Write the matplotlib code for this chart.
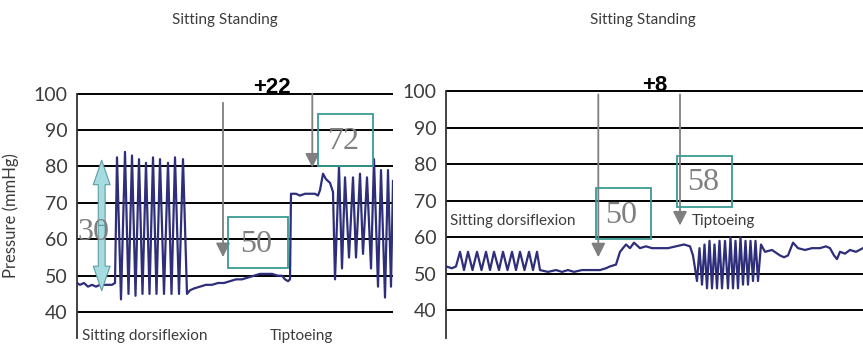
import matplotlib
matplotlib.use("Agg")
import matplotlib.pyplot as plt
from matplotlib.patches import Rectangle

plt.rcParams['font.family'] = ['Lato', 'DejaVu Sans']

# left trace (x = time in arbitrary units, y = pressure mmHg)
left_t = [0, 3, 7, 11, 15, 19, 23, 27, 31, 35, 38,
          40, 44, 48, 51.5, 55, 58.5, 62, 65.5, 69, 72.5, 76, 79.5, 83, 87, 91, 94.5, 98, 102, 106, 110,
          113, 117, 123, 129, 135, 141, 147, 153, 159, 165, 171, 177, 183, 189, 195, 201, 205, 208, 211, 213,
          214, 219, 223, 228, 233, 238, 241, 243, 246, 249, 253, 256, 258,
          262, 265, 268, 272, 276, 279, 283, 286, 290, 294, 297, 301, 304, 308, 311, 314, 316]
left_p = [48, 47.5, 48, 47, 47.5, 47, 47.5, 47.5, 47.5, 47.5, 48,
          82.5, 43.5, 84, 45, 83, 44.5, 82, 45, 81, 45, 82.5, 45, 82, 45, 81, 45, 82.5, 45, 82, 45,
          46, 46.5, 47, 47.5, 47.5, 48, 48, 48.5, 49, 49, 49.5, 50, 50.5, 50.5, 50.5, 50, 50, 49, 48.5, 49,
          72.5, 72.5, 72, 72.5, 72.5, 72.5, 72, 73.5, 78, 76.5, 75.5, 73, 49,
          80, 52, 77, 55, 77, 55, 78, 56, 77, 52, 82, 47, 79, 44, 79, 47, 76]

# right trace
right_t = [0, 6, 10, 14, 18, 22, 26.5, 31, 35.5, 40, 44, 48, 53, 57, 61.5, 66, 70, 74, 78.5, 83, 87, 91,
           94, 102, 110, 116, 122, 128, 136, 144, 154, 160, 164, 170, 174, 180, 184, 188, 194, 200, 206,
           214, 222, 230, 238, 244, 247,
           251, 253.5, 256, 258.5, 261, 263.5, 266, 268.5, 271, 273.5, 276, 279, 282, 284.5, 287, 289.5,
           292, 294.5, 297, 299.5, 302, 304.5, 307, 309.5, 312, 315,
           319, 326, 334, 338, 342, 347, 352, 359, 366, 374, 380, 384, 388, 391, 394, 399, 404, 410, 417]
right_p = [52, 51.5, 52, 56, 51, 56, 51, 56, 51, 56, 51, 56, 51, 56, 51, 56, 51, 56, 51, 56, 51, 56,
           51, 50.5, 51, 50.5, 51, 50.5, 51, 51, 51, 51.5, 52, 52.5, 56, 58, 57, 58.5, 57, 57.5, 57,
           57, 57, 57.5, 58, 57.5, 55,
           48, 57, 47, 58, 46, 59, 46, 58, 46, 59, 46, 59, 46, 60, 46, 59,
           46, 60, 47, 59, 47, 59, 48, 59, 48, 58,
           56, 56.5, 55, 54.5, 55, 58.5, 57, 56.5, 57, 57, 57.5, 57, 55, 54, 56, 55.5, 56.5, 56, 57]

yticks = [40, 50, 60, 70, 80, 90, 100]

trace_color = '#2e2e7a'
grey = '#7f7f7f'
teal = '#3a9b95'
txt = '#3c3c3c'

fig = plt.figure(figsize=(8.63, 3.48), dpi=100)
ax1 = fig.add_axes([77 / 863, 10 / 348, 316 / 863, 245.5 / 348])
ax2 = fig.add_axes([446 / 863, 10 / 348, 417 / 863, 248 / 348])

for ax, xmax, ybot in [(ax1, 316, 32.9), (ax2, 417, 32.4)]:
    ax.set_xlim(0, xmax)
    ax.set_ylim(ybot, 100.3)
    for s in ['top', 'right', 'bottom']:
        ax.spines[s].set_visible(False)
    ax.spines['left'].set_color('#333333')
    ax.spines['left'].set_linewidth(1.3)
    ax.spines['left'].set_bounds(ybot, 100)
    ax.set_xticks([])
    ax.set_yticks(yticks)
    ax.tick_params(axis='y', length=0, pad=7, labelsize=14, labelcolor=txt)
    for v in yticks:
        ax.axhline(v, color='black', lw=1.4, zorder=1)

ax1.plot(left_t, left_p, color=trace_color, lw=1.6, zorder=3)
ax2.plot(right_t, right_p, color=trace_color, lw=1.6, zorder=3)

ax1.set_ylabel('Pressure (mmHg)', fontsize=12, color=txt, labelpad=10)

fig.text(225 / 863, 1 - 20 / 348, 'Sitting Standing', ha='center', va='center', fontsize=11, color=txt)
fig.text(643 / 863, 1 - 20 / 348, 'Sitting Standing', ha='center', va='center', fontsize=11, color=txt)

ax1.text(195, 101.6, '+22', ha='center', va='center', fontsize=16, fontweight='bold',
         family=['Liberation Sans'], color='black', clip_on=False)
ax2.text(209, 101.6, '+8', ha='center', va='center', fontsize=16, fontweight='bold',
         family=['Liberation Sans'], color='black', clip_on=False)

# arrows
for ax, x, top, tip in [(ax1, 146, 97.5, 55.1), (ax1, 235.3, 100, 79.7),
                        (ax2, 152.3, 99.1, 54.5), (ax2, 234, 99.1, 63.2)]:
    ax.annotate('', xy=(x, tip), xytext=(x, top),
                arrowprops=dict(arrowstyle='-|>,head_length=0.6,head_width=0.3', color=grey, lw=1.3,
                                mutation_scale=14, shrinkA=0, shrinkB=0), zorder=4)

# double arrow
mid = (81.7 + 45.9) / 2
for end in [81.7, 45.9]:
    ax1.annotate('', xy=(24.7, end), xytext=(24.7, mid),
                 arrowprops=dict(arrowstyle='simple,head_length=1.6,head_width=1.1,tail_width=0.45',
                                 fc='#a6dbe0', ec='#5c9ea6', lw=0.8, mutation_scale=11,
                                 shrinkA=0, shrinkB=0), zorder=4)
ax1.text(16, 61.9, '30', ha='center', va='center', fontsize=23, color=grey,
         family=['Liberation Serif'], zorder=5)

# boxes with values
for ax, x0, x1, y0, y1, label in [(ax1, 151, 211, 52.1, 66.0, '50'),
                                  (ax1, 241.3, 295.7, 80.2, 94.3, '72'),
                                  (ax2, 149.7, 204.7, 59.5, 73.4, '50'),
                                  (ax2, 231.3, 286.3, 68.4, 82.3, '58')]:
    ax.add_patch(Rectangle((x0, y0), x1 - x0, y1 - y0, fill=False, ec=teal, lw=1.3, zorder=4))
    ax.text((x0 + x1) / 2 - 2, (y0 + y1) / 2 - 0.5, label, ha='center', va='center', fontsize=23,
            color=grey, family=['Liberation Serif'], zorder=5)

# labels
ax1.text(5, 33.5, 'Sitting dorsiflexion', ha='left', va='center', fontsize=11, color=txt, clip_on=False)
ax1.text(193, 33.5, 'Tiptoeing', ha='left', va='center', fontsize=11, color=txt, clip_on=False)
ax2.text(4, 64.5, 'Sitting dorsiflexion', ha='left', va='center', fontsize=11, color=txt)
ax2.text(246, 64.5, 'Tiptoeing', ha='left', va='center', fontsize=11, color=txt)

fig.savefig('out.png', dpi=100)
